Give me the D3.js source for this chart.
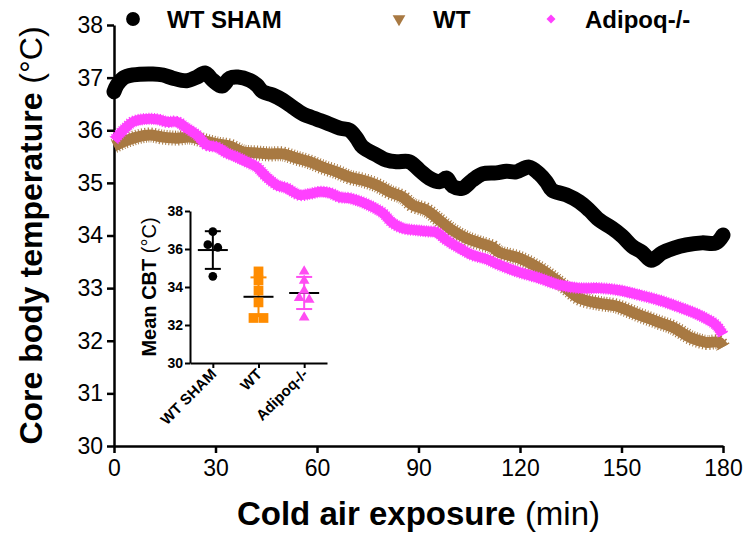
<!DOCTYPE html>
<html>
<head>
<meta charset="utf-8">
<script src="https://cdn.jsdelivr.net/npm/d3@7"></script>
<style>
  body { margin: 0; background: #fff; }
  svg { font-family: "Liberation Sans", Arial, sans-serif; }
</style>
</head>
<body>
<div id="chart"></div>
<script>
/* DATA */
// WT SHAM
const shamMin = [0,0.9,2.7,5.6,11.5,14.5,17.4,21.5,24.5,26.9,29.2,31.9,34.2,36.6,40.1,42.2,44,46.9,49.9,52.8,55.8,59.9,62.9,66.7,69.6,71.7,73.5,77.6,80.6,83.5,87.3,90.3,93.2,96.2,98.3,100,103,105.9,108.9,113,116,118.9,122.7,125.7,127.8,129.5,133.7,137.5,140.5,143.5,147.2,150.2,153.1,156.1,158.8,162,165.5,169.1,173.8,177.9,180];
const shamCBT = [36.73,36.86,36.99,37.05,37.07,37.05,36.99,36.94,37.01,37.09,36.95,36.84,36.99,37.01,36.95,36.86,36.73,36.67,36.57,36.44,36.31,36.21,36.14,36.04,36.00,35.85,35.68,35.53,35.43,35.40,35.40,35.24,35.09,35.02,35.09,34.94,34.90,35.05,35.17,35.19,35.22,35.21,35.30,35.17,35.02,34.86,34.77,34.64,34.48,34.29,34.14,33.99,33.80,33.68,33.53,33.67,33.76,33.82,33.86,33.86,34.01];
// WT
const wtMin = [0,2.7,6.8,10.6,14.5,18.6,22.4,26.3,30.4,34.2,38.1,42.2,46,49.9,54,57.8,61.7,65.8,69.6,73.5,77.6,81.4,85.3,88.2,92.4,96.2,100,104.2,108,111.8,113.9,119.8,125.7,131.6,137.5,143.5,148.4,155.2,161.1,165,170.8,175,178.8,180];
const wtCBT = [35.70,35.78,35.87,35.91,35.87,35.85,35.87,35.81,35.74,35.70,35.59,35.57,35.55,35.55,35.47,35.40,35.30,35.21,35.11,35.05,34.96,34.83,34.73,34.58,34.48,34.29,34.10,33.95,33.86,33.78,33.68,33.57,33.38,33.11,32.81,32.71,32.66,32.49,32.35,32.26,32.05,31.97,31.97,31.88];
// Adipoq-/-
const adMin = [0,2.7,5.6,8.6,12.7,15.6,18.6,21.5,24.5,27.4,30.4,33.3,36.3,39.2,42.2,45.1,48.1,51,54.9,57.8,60.8,63.7,66.7,69.6,73.5,76.5,79.4,82.3,85.3,89.4,92.4,95.3,98.3,102.1,105.9,110.1,113.9,119.8,125.7,131.6,137.5,143.4,149.3,155.2,161.1,167,172.9,177.9,180];
const adCBT = [35.81,36.00,36.16,36.21,36.21,36.16,36.16,36.04,35.91,35.72,35.68,35.57,35.49,35.40,35.30,35.11,34.96,34.90,34.77,34.79,34.83,34.81,34.73,34.71,34.63,34.54,34.43,34.24,34.14,34.10,34.08,34.06,33.91,33.76,33.63,33.55,33.44,33.30,33.19,33.06,33.00,33.00,32.96,32.87,32.77,32.64,32.49,32.30,32.11];

// inset: mean CBT per animal
const groups = ["WT SHAM", "WT", "Adipoq-/-"];
const shamMean = [36.91, 36.23, 36.08, 34.56];
const wtMean = [34.82, 34.35, 33.81, 33.19, 32.37, 32.37];
const adMean = [34.82, 34.33, 33.81, 33.42, 33.33, 32.40];

const xTicks = [0, 30, 60, 90, 120, 150, 180];
const yTicks = [30, 31, 32, 33, 34, 35, 36, 37, 38];
const insetTicks = [30, 32, 34, 36, 38];

/* CONSTANTS */
const width = 747, height = 536;
const margin = {top: 25, left: 114, right: 24, bottom: 90};
const black = "#000", brown = "#a87942", magenta = "#ff40ff";
const orange = "#ff8c00", pink = "#ff4df2";

const svg = d3.select("#chart").append("svg")
  .attr("width", width).attr("height", height);

/* SCALES */
const xScale = d3.scaleLinear().domain([0, 180]).range([margin.left, width - margin.right]);
const yScale = d3.scaleLinear().domain([30, 38]).range([height - margin.bottom, margin.top]);

const axisStyle = g => {
  g.select(".domain").attr("stroke-width", 2.5);
  g.selectAll(".tick line").attr("stroke-width", 2.5);
  g.selectAll(".tick text").attr("font-size", 23).attr("fill", "#000")
    .attr("font-family", "Liberation Sans, Arial, sans-serif");
};

svg.append("g")
  .attr("transform", `translate(0, ${height - margin.bottom})`)
  .call(d3.axisBottom(xScale).tickValues(xTicks).tickSize(7).tickPadding(7).tickSizeOuter(0))
  .call(axisStyle);

svg.append("g")
  .attr("transform", `translate(${margin.left}, 0)`)
  .call(d3.axisLeft(yScale).tickValues(yTicks).tickSize(7).tickPadding(4).tickSizeOuter(0))
  .call(axisStyle);

/* LINES */
const lineGen = d3.line()
  .x(d => xScale(d[0]))
  .y(d => yScale(d[1]))
  .curve(d3.curveCatmullRom);

const sham = shamMin.map((m, i) => [m, shamCBT[i]]);
const wt = wtMin.map((m, i) => [m, wtCBT[i]]);
const ad = adMin.map((m, i) => [m, adCBT[i]]);

svg.append("path").attr("d", lineGen(sham))
  .attr("fill", "none").attr("stroke", black).attr("stroke-width", 15)
  .attr("stroke-linecap", "round").attr("stroke-linejoin", "round");

// WT: thick band with a saw-tooth edge like the stacked triangles
svg.append("path").attr("d", lineGen(wt))
  .attr("fill", "none").attr("stroke", brown).attr("stroke-width", 15)
  .attr("stroke-dasharray", "1 2");
svg.append("path").attr("d", lineGen(wt))
  .attr("fill", "none").attr("stroke", brown).attr("stroke-width", 11)
  .attr("stroke-linejoin", "round");

svg.append("path").attr("d", lineGen(ad))
  .attr("fill", "none").attr("stroke", magenta).attr("stroke-width", 12)
  .attr("stroke-dasharray", "1 1.5");
svg.append("path").attr("d", lineGen(ad))
  .attr("fill", "none").attr("stroke", magenta).attr("stroke-width", 10)
  .attr("stroke-linejoin", "round");

/* AXIS TITLES */
const yTitle = svg.append("text")
  .attr("transform", `translate(42, ${(yScale(30) + yScale(38)) / 2}) rotate(-90)`)
  .attr("text-anchor", "middle").attr("font-size", 32);
yTitle.append("tspan").attr("font-weight", "bold").text("Core body temperature ");
yTitle.append("tspan").text("(°C)");

const xTitle = svg.append("text")
  .attr("x", (xScale(0) + xScale(180)) / 2).attr("y", 525)
  .attr("text-anchor", "middle").attr("font-size", 33);
xTitle.append("tspan").attr("font-weight", "bold").text("Cold air exposure ");
xTitle.append("tspan").text("(min)");

/* LEGEND */
const legend = [
  {label: "WT SHAM", color: black, sym: d3.symbolCircle, size: 150, rot: 0, x: 133},
  {label: "WT", color: brown, sym: d3.symbolTriangle, size: 70, rot: 180, x: 399},
  {label: "Adipoq-/-", color: magenta, sym: d3.symbolSquare, size: 40, rot: 45, x: 551}
];
const lg = svg.append("g").selectAll("g").data(legend).join("g")
  .attr("transform", d => `translate(${d.x}, 19)`);
lg.append("path")
  .attr("d", d => d3.symbol(d.sym, d.size)())
  .attr("transform", d => `rotate(${d.rot})`)
  .attr("fill", d => d.color);
lg.append("text")
  .attr("x", 34).attr("y", 8.5)
  .attr("font-size", 24).attr("font-weight", "bold")
  .text(d => d.label);

/* INSET */
const inset = svg.append("g");
const ixScale = d3.scalePoint().domain(groups).range([190, 327]).padding(0.5);
const iyScale = d3.scaleLinear().domain([30, 38]).range([363, 211]);

const insetStyle = g => {
  g.select(".domain").attr("stroke-width", 2);
  g.selectAll(".tick line").attr("stroke-width", 2);
  g.selectAll(".tick text").attr("font-size", 14).attr("font-weight", "bold").attr("fill", "#000")
    .attr("font-family", "Liberation Sans, Arial, sans-serif");
};

inset.append("g")
  .attr("transform", "translate(190, 0)")
  .call(d3.axisLeft(iyScale).tickValues(insetTicks).tickSize(5).tickPadding(2).tickSizeOuter(0))
  .call(insetStyle);

const ixAxis = inset.append("g")
  .attr("transform", "translate(0, 363)")
  .call(d3.axisBottom(ixScale).tickSize(5).tickSizeOuter(0))
  .call(insetStyle);
ixAxis.selectAll(".tick text")
  .attr("text-anchor", "end")
  .attr("dy", null)
  .attr("font-size", 15)
  .attr("transform", "translate(4, 12) rotate(-45)")
  .attr("y", 0).attr("x", 0);

const iTitle = inset.append("text")
  .attr("transform", `translate(156, ${(iyScale(30) + iyScale(38)) / 2}) rotate(-90)`)
  .attr("text-anchor", "middle").attr("font-size", 20);
iTitle.append("tspan").attr("font-weight", "bold").text("Mean CBT ");
iTitle.append("tspan").text("(°C)");

const insetGroups = [
  {name: "WT SHAM", vals: shamMean, color: black, sym: d3.symbolCircle, size: 60},
  {name: "WT", vals: wtMean, color: orange, sym: d3.symbolSquare, size: 95},
  {name: "Adipoq-/-", vals: adMean, color: pink, sym: d3.symbolTriangle, size: 50}
];

// spread points whose values nearly coincide, like a scatter dot plot
function dodge(vals) {
  const order = vals.map((v, i) => i).sort((a, b) => vals[b] - vals[a]);
  const off = new Array(vals.length).fill(0);
  let cluster = [order[0]];
  const flush = () => {
    cluster.forEach((idx, k) => off[idx] = (k - (cluster.length - 1) / 2) * 10);
  };
  for (let k = 1; k < order.length; k++) {
    if (vals[order[k - 1]] - vals[order[k]] < 0.3) cluster.push(order[k]);
    else { flush(); cluster = [order[k]]; }
  }
  flush();
  return off;
}

insetGroups.forEach(g => {
  const cx = ixScale(g.name);
  const m = d3.mean(g.vals), sd = d3.deviation(g.vals);
  const eb = inset.append("g").attr("stroke", g.color).attr("stroke-width", 2);
  eb.append("line").attr("x1", cx).attr("x2", cx).attr("y1", iyScale(m + sd)).attr("y2", iyScale(m - sd));
  [m + sd, m - sd].forEach(v => eb.append("line")
    .attr("x1", cx - 8).attr("x2", cx + 8).attr("y1", iyScale(v)).attr("y2", iyScale(v)));
  inset.append("line").attr("stroke", black).attr("stroke-width", 2)
    .attr("x1", cx - 15).attr("x2", cx + 15).attr("y1", iyScale(m)).attr("y2", iyScale(m));
  const off = dodge(g.vals);
  inset.append("g").selectAll("path").data(g.vals).join("path")
    .attr("d", d3.symbol(g.sym, g.size)())
    .attr("transform", (d, i) => `translate(${cx + off[i]}, ${iyScale(d)})`)
    .attr("fill", g.color);
});
</script>
</body>
</html>
